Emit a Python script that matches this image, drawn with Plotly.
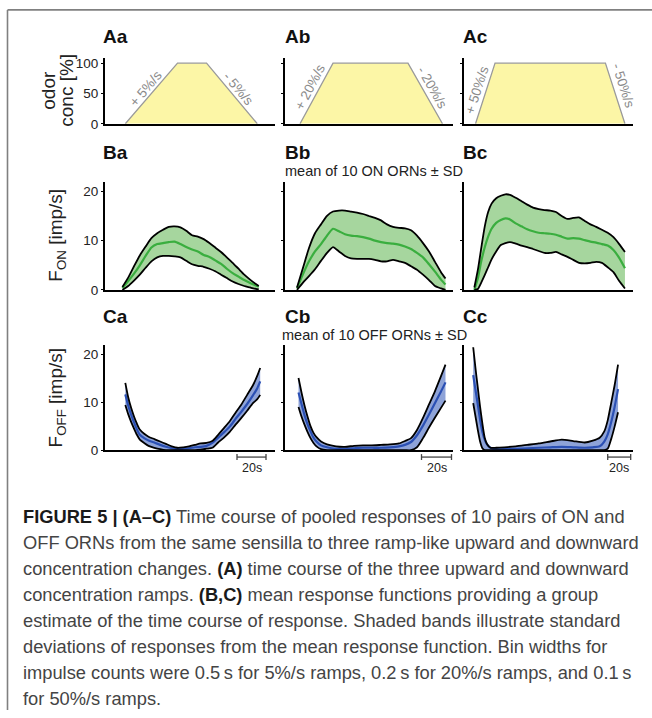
import plotly.graph_objects as go

W, H = 652, 718


def px(x):
    return x / W


def py(y):
    return 1 - y / H


# ---------------- data ----------------
# A: odor concentration ramps (time in s, concentration in %)
ramp_a_t = [14, 50, 70, 105]
ramp_b_t = [10, 32, 82, 105]
ramp_c_t = [10, 27, 123, 140]
ramp_conc = [0, 100, 100, 0]
ramp_up_labels = ["+ 5%/s", "+ 20%/s", "+ 50%/s"]
ramp_down_labels = ["- 5%/s", "- 20%/s", "- 50%/s"]

# B: ON ORNs (imp/s)
ba_t = [12, 16, 20, 24, 28, 32, 36, 40, 44, 48, 52, 56, 60, 64, 68, 72, 76, 80, 84, 88, 92, 96, 100, 104, 106]
ba_mean = [0.4, 1.8, 3.3, 5, 6.9, 8.6, 9.3, 9.5, 9.7, 9.8, 9.3, 8.7, 8.2, 7.8, 7.1, 6.7, 6, 5.3, 4.3, 3.4, 2.7, 2, 1.4, 0.9, 0.7]
ba_upper = [0.6, 2.5, 4.8, 7, 8.8, 10.5, 11.5, 12.2, 12.8, 12.9, 12.7, 12, 11.1, 10.8, 10.3, 9.5, 8.6, 7.7, 6.6, 5.5, 4.3, 3.1, 2.1, 1.2, 0.8]
ba_lower = [0, 0.8, 1.9, 3.1, 4.5, 5.8, 6.6, 6.9, 6.9, 6.8, 6.6, 5.9, 5.2, 4.9, 4.7, 4.3, 3.8, 3.1, 2.4, 1.7, 1.2, 0.8, 0.5, 0.2, 0.1]

bb_t = [8, 12, 16, 20, 24, 28, 32, 36, 40, 44, 48, 52, 56, 60, 64, 68, 72, 76, 80, 84, 88, 92, 96, 100, 104, 107]
bb_mean = [0.3, 3.2, 5.8, 7.8, 9.3, 11, 12.4, 11.9, 11.3, 11, 10.9, 10.7, 10.4, 10, 9.7, 9.5, 9.4, 9.2, 8.8, 8.3, 7.5, 6.6, 5.2, 3.7, 2.1, 1.1]
bb_upper = [0.5, 4.5, 8.5, 11.5, 13.3, 15, 15.9, 16.1, 16.1, 15.9, 15.7, 15.4, 15, 14.6, 14.1, 13.3, 12.8, 12.6, 12.5, 12.1, 11, 9.5, 7.8, 5.7, 3.6, 2.3]
bb_lower = [0, 1.5, 2.8, 4.2, 5.9, 7.5, 8.7, 7.8, 6.9, 6.4, 6.3, 6.3, 6.3, 6.1, 5.8, 5.8, 6.1, 5.8, 5.5, 4.8, 4.1, 3.1, 2, 0.8, 0.3, 0]

bc_t = [9, 12, 15, 18, 21, 24, 28, 32, 36, 40, 45, 50, 55, 60, 65, 70, 75, 80, 85, 90, 95, 100, 105, 110, 115, 120, 125, 130, 135, 140]
bc_mean = [0, 2.3, 5.8, 8.6, 10.8, 12.4, 13.6, 14.2, 14.5, 14.3, 13.5, 12.9, 12.3, 11.9, 11.6, 11.5, 11.4, 11.2, 10.8, 10.4, 10.5, 10.4, 10.1, 9.8, 9.6, 9.3, 9, 8.1, 6.5, 4.4]
bc_upper = [0.5, 4, 8.5, 12.8, 15.8, 17.5, 18.6, 19.1, 19.4, 19.3, 18.7, 18, 17.3, 16.7, 16.4, 16.2, 16.1, 15.8, 15, 14.4, 14.6, 14.7, 14, 13.3, 12.8, 12.2, 11.6, 10.7, 9.3, 7.7]
bc_lower = [0, 0.2, 1.5, 3, 4.6, 6.2, 7.8, 9.1, 9.5, 9.7, 9.4, 9, 8.7, 8.3, 7.9, 7.5, 7.5, 7.7, 7.2, 6.7, 6.1, 5.5, 5.4, 5.5, 5.7, 5.5, 4.6, 3.6, 1.8, 0.3]

# C: OFF ORNs (imp/s)
ca_t = [14, 16, 18, 20, 22, 24, 27, 30, 34, 38, 42, 46, 50, 54, 58, 62, 66, 70, 74, 78, 82, 86, 90, 94, 98, 102, 105, 107]
ca_mean = [11.6, 9.3, 7.4, 5.8, 4.3, 3.2, 2.5, 2, 1.6, 1.1, 0.7, 0.4, 0.2, 0.3, 0.4, 0.6, 0.7, 0.9, 1.5, 2.6, 3.7, 4.9, 6.5, 8, 9.6, 11.4, 12.9, 14.3]
ca_upper = [14, 11, 8.8, 7, 5.5, 4.3, 3.4, 2.8, 2.3, 1.8, 1.3, 0.8, 0.5, 0.6, 0.8, 1.1, 1.4, 1.5, 1.9, 3.2, 4.6, 6, 7.8, 9.5, 11.5, 13.5, 15.5, 17.1]
ca_lower = [9.4, 7.5, 5.9, 4.5, 3.2, 2.2, 1.5, 0.9, 0.5, 0.2, 0, 0, 0, 0, 0, 0, 0.1, 0.3, 0.5, 1.6, 2.6, 3.8, 5.3, 6.7, 8.2, 9.8, 10.6, 11.5]

cb_t = [9, 11, 13, 15, 17, 19, 21, 24, 28, 34, 40, 46, 52, 58, 64, 70, 76, 80, 84, 88, 92, 96, 100, 104, 107]
cb_mean = [12, 9.6, 7.3, 5.4, 3.9, 2.6, 1.8, 1, 0.6, 0.3, 0.3, 0.4, 0.5, 0.5, 0.5, 0.6, 0.8, 1.1, 1.7, 3.1, 5.1, 7.4, 9.8, 12.2, 14.1]
cb_upper = [15, 12, 9.3, 7, 5, 3.6, 2.7, 1.8, 1.2, 0.8, 0.7, 0.9, 1, 1, 1.1, 1.2, 1.4, 1.9, 2.5, 4.2, 6.7, 9.5, 12.3, 15.4, 17.8]
cb_lower = [9, 7, 5.3, 3.8, 2.5, 1.5, 0.8, 0.2, 0, 0, 0, 0, 0, 0, 0, 0, 0, 0, 0, 0.6, 2.5, 4.7, 6.8, 8.8, 10.3]

cc_t = [8, 10, 12, 14, 16, 18, 20, 23, 28, 35, 45, 55, 65, 75, 85, 95, 105, 112, 118, 122, 125, 128, 131, 134]
cc_mean = [15.6, 12.5, 9.5, 6.3, 3.8, 2.2, 1.2, 0.5, 0.2, 0.2, 0.3, 0.4, 0.5, 0.6, 0.7, 0.6, 0.5, 0.6, 0.8, 1.8, 3.3, 5.8, 9, 12.7]
cc_upper = [21.4, 17, 13, 9, 5.5, 2.6, 1.3, 0.5, 0.5, 0.6, 0.8, 1.1, 1.4, 1.8, 2.2, 1.9, 1.6, 2, 2.6, 3.9, 6.2, 9.8, 13.5, 17.8]
cc_lower = [9.8, 7, 4.2, 1.8, 0.4, 0, 0, 0, 0, 0, 0, 0, 0, 0, 0, 0, 0, 0, 0, 0, 0.3, 2.3, 4.9, 7.9]

# axis extents (s) and ticks
col_t_range = [117.2, 112, 147]
scale_bar_start = [91, 91, 125]
scale_bar_len = 20
scale_bar_label = "20s"
conc_ticks = [0, 50, 100]
rate_ticks = [0, 10, 20]
panel_titles = [["Aa", "Ab", "Ac"], ["Ba", "Bb", "Bc"], ["Ca", "Cb", "Cc"]]
group_notes = ["mean of 10 ON ORNs \u00b1 SD", "mean of 10 OFF ORNs \u00b1 SD"]
B0 = "<b><span style='color:#1a1a1a'>"
B1 = "</span></b>"
caption_lines = [
    B0 + "FIGURE 5 | (A\u2013C)" + B1 + " Time course of pooled responses of 10 pairs of ON and",
    "OFF ORNs from the same sensilla to three ramp-like upward and downward",
    "concentration changes. " + B0 + "(A)" + B1 + " time course of the three upward and downward",
    "concentration ramps. " + B0 + "(B,C)" + B1 + " mean response functions providing a group",
    "estimate of the time course of response. Shaded bands illustrate standard",
    "deviations of responses from the mean response function. Bin widths for",
    "impulse counts were 0.5\u2009s for 5%/s ramps, 0.2\u2009s for 20%/s ramps, and 0.1\u2009s",
    "for 50%/s ramps.",
]

# ---------------- layout geometry (pixels) ----------------
col_px = [(105, 275), (285, 453), (464, 633)]
row_px = [(57.1, 123.5), (183, 292), (348.2, 454.5)]
row_range = [[0, 108], [0, 21.8], [0, 21.8]]

YELLOW = "#fcf6a6"
GREEN_FILL = "#a6d69e"
GREEN = "#3aae3f"
BLUE_FILL = "#8ea3d8"
BLUE = "#2b50b4"
FONT = "Liberation Sans, Arial, sans-serif"

fig = go.Figure()


def ax_id(r, c):
    n = r * 3 + c + 1
    return ("x" if n == 1 else f"x{n}"), ("y" if n == 1 else f"y{n}"), n


# A row: trapezoids
for c, rt in enumerate([ramp_a_t, ramp_b_t, ramp_c_t]):
    xa, ya, n = ax_id(0, c)
    fig.add_trace(go.Scatter(x=rt, y=ramp_conc, mode="lines", fill="toself",
                             fillcolor=YELLOW, line=dict(color="#9a9a9a", width=1.3),
                             xaxis=xa, yaxis=ya, hoverinfo="skip", showlegend=False))

bands = [
    [(ba_t, ba_mean, ba_upper, ba_lower), (bb_t, bb_mean, bb_upper, bb_lower), (bc_t, bc_mean, bc_upper, bc_lower)],
    [(ca_t, ca_mean, ca_upper, ca_lower), (cb_t, cb_mean, cb_upper, cb_lower), (cc_t, cc_mean, cc_upper, cc_lower)],
]
for r, row in enumerate(bands, start=1):
    fillc = GREEN_FILL if r == 1 else BLUE_FILL
    meanc = GREEN if r == 1 else BLUE
    for c, (t, m, u, lo) in enumerate(row):
        xa, ya, n = ax_id(r, c)
        common = dict(xaxis=xa, yaxis=ya, hoverinfo="skip", showlegend=False, mode="lines")
        fig.add_trace(go.Scatter(x=t, y=lo, line=dict(width=0, color=fillc), **common))
        fig.add_trace(go.Scatter(x=t, y=u, fill="tonexty", fillcolor=fillc,
                                 line=dict(width=0, color=fillc), **common))
        fig.add_trace(go.Scatter(x=t, y=m, line=dict(color=meanc, width=2.2, shape="spline", smoothing=0.6), **common))
        fig.add_trace(go.Scatter(x=t, y=u, line=dict(color="black", width=1.8, shape="spline", smoothing=0.6), **common))
        fig.add_trace(go.Scatter(x=t, y=lo, line=dict(color="black", width=1.8, shape="spline", smoothing=0.6), **common))

layout = dict(width=W, height=H, margin=dict(l=0, r=0, t=0, b=0),
              paper_bgcolor="white", plot_bgcolor="rgba(0,0,0,0)", showlegend=False)
for r in range(3):
    for c in range(3):
        xa, ya, n = ax_id(r, c)
        xk = "xaxis" if n == 1 else f"xaxis{n}"
        yk = "yaxis" if n == 1 else f"yaxis{n}"
        x0, x1 = col_px[c]
        ytop, ybot = row_px[r]
        layout[xk] = dict(domain=[px(x0), px(x1)], range=[0, col_t_range[c]], anchor=ya,
                          showline=True, linecolor="black", linewidth=2, showgrid=False,
                          zeroline=False, showticklabels=False, ticks="", fixedrange=True)
        layout[yk] = dict(domain=[py(ybot), py(ytop)], range=row_range[r], anchor=xa,
                          showline=True, linecolor="black", linewidth=2, showgrid=False,
                          zeroline=False, tickvals=conc_ticks if r == 0 else rate_ticks,
                          ticks="outside", ticklen=2, tickwidth=1, tickcolor="black",
                          showticklabels=(c == 0),
                          tickfont=dict(family=FONT, size=13.5, color="#222"),
                          fixedrange=True)
fig.update_layout(**layout)

ann = []
# panel titles
title_x = [101, 283, 461]
title_y = [35, 153, 319]
for r in range(3):
    for c in range(3):
        ann.append(dict(x=px(title_x[c]), y=py(title_y[r]), xref="paper", yref="paper",
                        text=f"<b>{panel_titles[r][c]}</b>", showarrow=False,
                        xanchor="left", yanchor="middle",
                        font=dict(family=FONT, size=19, color="#111")))
# group notes
ann.append(dict(x=px(374), y=py(171), xref="paper", yref="paper", text=group_notes[0],
                showarrow=False, xanchor="center", yanchor="middle",
                font=dict(family=FONT, size=14.5, color="#222")))
ann.append(dict(x=px(374), y=py(338), xref="paper", yref="paper", text=group_notes[1],
                showarrow=False, xanchor="center", yanchor="middle",
                font=dict(family=FONT, size=14.5, color="#222")))
# y titles
ytitles = [("odor", 49, 90), ("conc [%]", 67, 90),
           ("F<sub>ON</sub> [imp/s]", 57, 237), ("F<sub>OFF</sub> [imp/s]", 57, 402)]
for txt, xx, yy in ytitles:
    ann.append(dict(x=px(xx), y=py(yy), xref="paper", yref="paper", text=txt, textangle=-90,
                    showarrow=False, xanchor="center", yanchor="middle",
                    font=dict(family=FONT, size=19, color="#222")))
# ramp slope labels
up_pos = [(146, 88, -50), (310, 87, -62), (477, 90, -72)]
down_pos = [(238, 88, 50), (432, 87, 60), (623, 85, 72)]
for i in range(3):
    for (xx, yy, ang), txt in [(up_pos[i], ramp_up_labels[i]), (down_pos[i], ramp_down_labels[i])]:
        ann.append(dict(x=px(xx), y=py(yy), xref="paper", yref="paper", text=txt, textangle=ang,
                        showarrow=False, xanchor="center", yanchor="middle",
                        font=dict(family=FONT, size=13.5, color="#8a8a8a")))

shapes = []
# scale bars
for c in range(3):
    xa, ya, n = ax_id(2, c)
    s0 = scale_bar_start[c]
    s1 = s0 + scale_bar_len
    yb = py(461.5)
    line = dict(color="#444", width=1.3)
    shapes.append(dict(type="line", xref=xa, yref="paper", x0=s0, x1=s1, y0=yb, y1=yb, line=line))
    for s in (s0, s1):
        shapes.append(dict(type="line", xref=xa, yref="paper", x0=s, x1=s, y0=py(458.5), y1=py(464.5), line=line))
    ann.append(dict(x=(s0 + s1) / 2, y=py(473), xref=xa, yref="paper", text=scale_bar_label,
                    showarrow=False, xanchor="center", yanchor="middle",
                    font=dict(family=FONT, size=12.5, color="#222")))

# frame
shapes.append(dict(type="line", xref="paper", yref="paper", x0=px(7.5), x1=1, y0=py(8), y1=py(8),
                   line=dict(color="#808080", width=1.6)))
shapes.append(dict(type="line", xref="paper", yref="paper", x0=px(7.5), x1=px(7.5), y0=py(8), y1=0,
                   line=dict(color="#808080", width=1.6)))

# caption
cap_y0, cap_dy = 522, 26.4
for i, line_txt in enumerate(caption_lines):
    ann.append(dict(x=px(21), y=py(cap_y0 + i * cap_dy), xref="paper", yref="paper", text=line_txt,
                    showarrow=False, xanchor="left", yanchor="middle", align="left",
                    font=dict(family=FONT, size=18.3, color="#444")))

fig.update_layout(annotations=ann, shapes=shapes)
fig.write_html("out.html")
